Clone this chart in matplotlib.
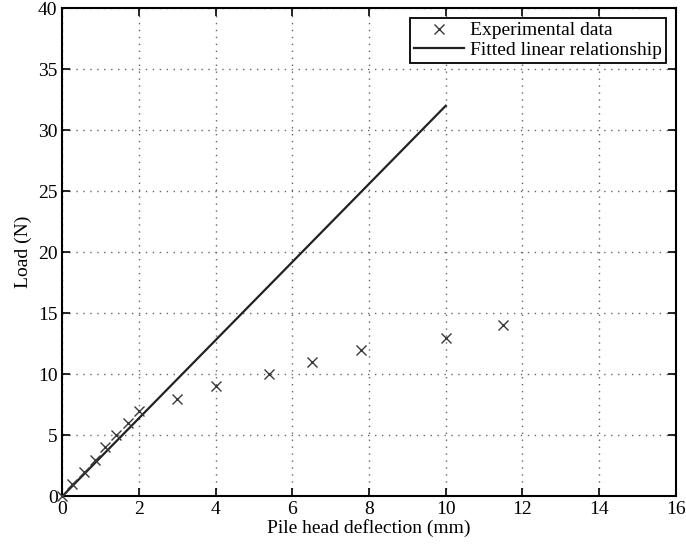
import matplotlib
matplotlib.use("Agg")
import matplotlib.pyplot as plt
import numpy as np

plt.rcParams['font.family'] = ['Liberation Serif', 'DejaVu Serif']

# Measured load-deflection points
deflection = [0.0, 0.25, 0.55, 0.85, 1.1, 1.4, 1.7, 2.0, 3.0, 4.0, 5.4, 6.5, 7.8, 10.0, 11.5]
load = [0, 1, 2, 3, 4, 5, 6, 7, 8, 9, 10, 11, 12, 13, 14]

# Linear fit through origin
fit_x = [0.0, 10.0]
fit_slope = 3.2
fit_y = [fit_slope * v for v in fit_x]

fig = plt.figure(figsize=(6.86, 5.44), dpi=100)
ax = fig.add_axes([0.091, 0.088, 0.894, 0.897])

ax.plot(deflection, load, 'x', color='#3a3a3a', markersize=6.5, markeredgewidth=1.0,
        label='Experimental data', clip_on=False, zorder=3)
ax.plot(fit_x, fit_y, '-', color='#222222', linewidth=1.6,
        label='Fitted linear relationship')

ax.set_xlim(0, 16)
ax.set_ylim(0, 40)
ax.set_xticks(np.arange(0, 17, 2))
ax.set_yticks(np.arange(0, 41, 5))
ax.grid(True, linestyle=(0, (1, 4)), color='#666666', linewidth=1.0)
ax.tick_params(direction='in', top=True, right=True, labelsize=14, length=6, width=1.2)
for s in ax.spines.values():
    s.set_linewidth(1.5)

ax.set_xlabel('Pile head deflection (mm)', fontsize=14, labelpad=1)
ax.set_ylabel('Load (N)', fontsize=14, labelpad=4)

leg = ax.legend(loc='upper right', fontsize=14, fancybox=False, framealpha=1,
                edgecolor='black', borderpad=0.2, labelspacing=0.1,
                handlelength=2.6, handletextpad=0.3, borderaxespad=0.5)
leg.get_frame().set_linewidth(1.3)

fig.savefig('out.png', dpi=100)
